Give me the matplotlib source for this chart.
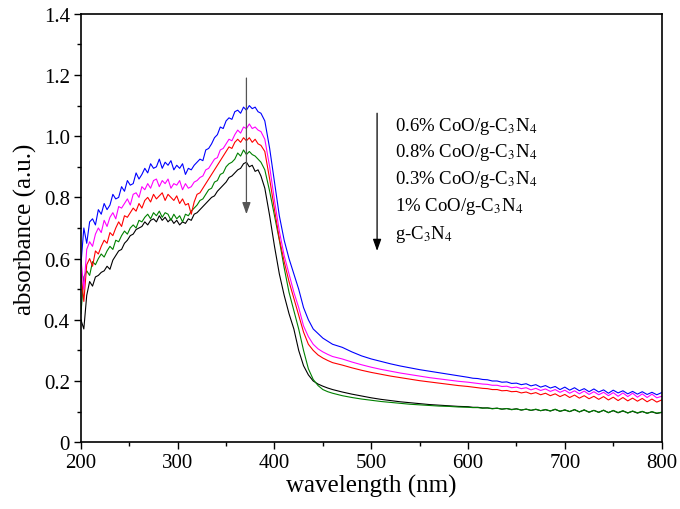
import numpy as np
import matplotlib
matplotlib.use("Agg")
import matplotlib.pyplot as plt
from matplotlib.ticker import MultipleLocator, FuncFormatter

# ── wavelength grid (nm): noisy UV part, absorption edge, tail ────────────────
wavelength = np.concatenate([
    np.arange(200, 387, 3),
    np.arange(390, 461, 5),
    np.arange(470, 591, 10),
    np.arange(600, 801, 5),
])

# ── absorbance ───────────────────────────────────────────────────────────────
abs_06 = [  # 0.6% CoO/g-C3N4 (blue)
    0.58, 0.70, 0.65, 0.72, 0.73, 0.71, 0.76, 0.745, 0.78, 0.76, 0.775, 0.81,
    0.795, 0.80, 0.835, 0.82, 0.855, 0.84, 0.845, 0.88, 0.86, 0.875, 0.895, 0.88,
    0.91, 0.895, 0.90, 0.925, 0.895, 0.915, 0.905, 0.92, 0.89, 0.905, 0.895, 0.91,
    0.875, 0.895, 0.89, 0.905, 0.915, 0.925, 0.92, 0.955, 0.96, 0.975, 0.995,
    1.005, 1.03, 1.025, 1.05, 1.06, 1.055, 1.08, 1.085, 1.075, 1.095, 1.085, 1.10,
    1.09, 1.095, 1.08, 1.075,
    1.05, 0.96, 0.85, 0.74, 0.66, 0.60, 0.55, 0.50, 0.44, 0.40, 0.37, 0.355,
    0.34, 0.33, 0.32,
    0.31, 0.295, 0.282, 0.272, 0.264, 0.256, 0.249, 0.243, 0.237, 0.232, 0.227,
    0.222, 0.217,
    0.212, 0.209, 0.208, 0.205, 0.204, 0.200, 0.200, 0.196, 0.197, 0.192, 0.193,
    0.188, 0.191, 0.184, 0.188, 0.180, 0.185, 0.177, 0.182, 0.172, 0.180, 0.170,
    0.178, 0.168, 0.175, 0.165, 0.174, 0.164, 0.171, 0.160, 0.170, 0.161, 0.168,
    0.158, 0.166, 0.157, 0.165, 0.156, 0.163, 0.155, 0.162,
]
abs_08 = [  # 0.8% CoO/g-C3N4 (magenta)
    0.60, 0.50, 0.63, 0.655, 0.64, 0.68, 0.70, 0.685, 0.725, 0.705, 0.735, 0.75,
    0.73, 0.77, 0.765, 0.78, 0.795, 0.775, 0.81, 0.815, 0.80, 0.835, 0.825, 0.845,
    0.83, 0.855, 0.86, 0.835, 0.855, 0.845, 0.86, 0.83, 0.845, 0.84, 0.855, 0.825,
    0.845, 0.83, 0.835, 0.85, 0.855, 0.865, 0.87, 0.89, 0.895, 0.91, 0.925, 0.93,
    0.955, 0.96, 0.975, 0.99, 0.985, 1.005, 1.02, 1.01, 1.03, 1.025, 1.04, 1.025,
    1.03, 1.02, 1.015,
    0.99, 0.90, 0.79, 0.69, 0.61, 0.55, 0.49, 0.44, 0.38, 0.345, 0.32, 0.305,
    0.295, 0.287, 0.28,
    0.272, 0.262, 0.253, 0.245, 0.238, 0.232, 0.226, 0.221, 0.216, 0.211, 0.207,
    0.203, 0.199,
    0.196, 0.194, 0.192, 0.190, 0.189, 0.186, 0.186, 0.182, 0.183, 0.178, 0.180,
    0.175, 0.178, 0.171, 0.176, 0.169, 0.174, 0.166, 0.172, 0.163, 0.170, 0.160,
    0.168, 0.158, 0.167, 0.156, 0.165, 0.155, 0.163, 0.152, 0.162, 0.150, 0.161,
    0.149, 0.160, 0.147, 0.158, 0.146, 0.157, 0.145, 0.150,
]
abs_03 = [  # 0.3% CoO/g-C3N4 (red)
    0.55, 0.46, 0.58, 0.60, 0.575, 0.625, 0.615, 0.64, 0.66, 0.65, 0.685, 0.675,
    0.70, 0.72, 0.705, 0.74, 0.735, 0.75, 0.765, 0.755, 0.78, 0.765, 0.79, 0.80,
    0.785, 0.81, 0.795, 0.805, 0.815, 0.79, 0.81, 0.80, 0.79, 0.805, 0.78, 0.795,
    0.775, 0.78, 0.745, 0.785, 0.81, 0.815, 0.83, 0.845, 0.86, 0.875, 0.89, 0.905,
    0.92, 0.935, 0.95, 0.965, 0.96, 0.98, 0.99, 0.98, 0.995, 0.985, 0.995, 0.98,
    0.99, 0.975, 0.97,
    0.95, 0.86, 0.76, 0.665, 0.59, 0.525, 0.47, 0.415, 0.36, 0.32, 0.30, 0.285,
    0.275, 0.267, 0.26,
    0.252, 0.243, 0.235, 0.228, 0.222, 0.216, 0.211, 0.206, 0.201, 0.197, 0.193,
    0.189, 0.185,
    0.182, 0.180, 0.178, 0.176, 0.175, 0.172, 0.172, 0.168, 0.169, 0.165, 0.166,
    0.161, 0.164, 0.158, 0.162, 0.155, 0.160, 0.152, 0.158, 0.149, 0.156, 0.146,
    0.154, 0.144, 0.152, 0.142, 0.150, 0.140, 0.149, 0.138, 0.147, 0.136, 0.146,
    0.135, 0.144, 0.134, 0.143, 0.132, 0.141, 0.131, 0.138,
]
abs_10 = [  # 1% CoO/g-C3N4 (green)
    0.42, 0.54, 0.56, 0.545, 0.59, 0.58, 0.60, 0.615, 0.605, 0.625, 0.64, 0.63,
    0.66, 0.655, 0.675, 0.69, 0.68, 0.70, 0.71, 0.70, 0.725, 0.72, 0.735, 0.745,
    0.73, 0.75, 0.74, 0.755, 0.735, 0.75, 0.745, 0.725, 0.745, 0.73, 0.74, 0.72,
    0.745, 0.74, 0.755, 0.765, 0.775, 0.79, 0.795, 0.81, 0.825, 0.83, 0.85, 0.855,
    0.875, 0.88, 0.90, 0.91, 0.915, 0.925, 0.945, 0.935, 0.955, 0.94, 0.95, 0.94,
    0.935, 0.925, 0.915,
    0.89, 0.82, 0.74, 0.66, 0.57, 0.49, 0.43, 0.37, 0.30, 0.24, 0.205, 0.185,
    0.172, 0.165, 0.16,
    0.152, 0.146, 0.141, 0.137, 0.133, 0.130, 0.127, 0.124, 0.122, 0.120, 0.118,
    0.117, 0.115,
    0.114, 0.113, 0.113, 0.111, 0.112, 0.109, 0.111, 0.108, 0.110, 0.106, 0.109,
    0.105, 0.108, 0.104, 0.108, 0.103, 0.107, 0.102, 0.108, 0.101, 0.106, 0.100,
    0.107, 0.099, 0.106, 0.098, 0.104, 0.097, 0.105, 0.096, 0.104, 0.097, 0.103,
    0.095, 0.102, 0.096, 0.101, 0.094, 0.100, 0.095, 0.098,
]
abs_gcn = [  # g-C3N4 (black)
    0.40, 0.37, 0.48, 0.525, 0.51, 0.54, 0.545, 0.555, 0.56, 0.575, 0.565, 0.595,
    0.61, 0.625, 0.63, 0.65, 0.66, 0.675, 0.68, 0.695, 0.70, 0.705, 0.72, 0.71,
    0.725, 0.73, 0.72, 0.74, 0.725, 0.735, 0.72, 0.73, 0.715, 0.725, 0.71, 0.72,
    0.715, 0.73, 0.725, 0.745, 0.75, 0.76, 0.77, 0.78, 0.79, 0.80, 0.805, 0.82,
    0.83, 0.84, 0.85, 0.865, 0.87, 0.88, 0.89, 0.895, 0.91, 0.915, 0.90, 0.905,
    0.885, 0.89, 0.87,
    0.83, 0.74, 0.64, 0.55, 0.48, 0.42, 0.37, 0.30, 0.25, 0.22, 0.20, 0.19,
    0.183, 0.177, 0.172,
    0.164, 0.157, 0.151, 0.145, 0.140, 0.136, 0.132, 0.129, 0.126, 0.123, 0.121,
    0.119, 0.117,
    0.116, 0.114, 0.114, 0.112, 0.112, 0.110, 0.111, 0.108, 0.110, 0.107, 0.109,
    0.105, 0.108, 0.104, 0.107, 0.103, 0.106, 0.102, 0.107, 0.101, 0.105, 0.100,
    0.106, 0.099, 0.105, 0.098, 0.104, 0.098, 0.104, 0.097, 0.103, 0.096, 0.102,
    0.096, 0.101, 0.095, 0.100, 0.095, 0.099, 0.094, 0.097,
]

labels = [
    "0.6% CoO/g-C$_3$N$_4$",
    "0.8% CoO/g-C$_3$N$_4$",
    "0.3% CoO/g-C$_3$N$_4$",
    "1% CoO/g-C$_3$N$_4$",
    "g-C$_3$N$_4$",
]
series = [abs_06, abs_08, abs_03, abs_10, abs_gcn]
colors = ["#0000ff", "#ff00ff", "#ff0000", "#008000", "#000000"]

plt.rcParams["font.family"] = ["Liberation Serif", "DejaVu Serif"]
plt.rcParams["mathtext.fontset"] = "stix"

fig = plt.figure(figsize=(6.8, 5.1), dpi=100)
ax = fig.add_axes([0.119, 0.131, 0.854, 0.840])

# draw black first so the blue curve sits on top like the original
for y, c in reversed(list(zip(series, colors))):
    ax.plot(wavelength, y, color=c, lw=0.8)

ax.set_xlim(200, 800)
ax.set_ylim(0, 1.4)
ax.xaxis.set_major_locator(MultipleLocator(100))
ax.xaxis.set_minor_locator(MultipleLocator(50))
ax.yaxis.set_major_locator(MultipleLocator(0.2))
ax.yaxis.set_minor_locator(MultipleLocator(0.1))
ax.yaxis.set_major_formatter(FuncFormatter(lambda v, _: "0" if abs(v) < 1e-9 else f"{v:.1f}"))
ax.tick_params(which="both", direction="out", top=False, right=False, labelsize=15, width=1.0)
ax.tick_params(which="major", length=5, pad=3)
ax.tick_params(which="minor", length=3)
for sp in ax.spines.values():
    sp.set_linewidth(1.2)

ax.set_xlabel("wavelength (nm)", fontsize=18, labelpad=1)
ax.set_ylabel("absorbance (a.u.)", fontsize=18, labelpad=5)

# trend arrow on the curves
ax.annotate("", xy=(371, 0.745), xytext=(371, 1.19),
            arrowprops=dict(arrowstyle="-|>,head_width=0.25,head_length=0.7",
                            color="#555555", lw=0.9, shrinkA=0, shrinkB=0))
ax.annotate("", xy=(506, 0.625), xytext=(506, 1.075),
            arrowprops=dict(arrowstyle="-|>,head_width=0.25,head_length=0.7",
                            color="black", lw=0.9, shrinkA=0, shrinkB=0))

# label list next to the arrow
label_y = [1.034, 0.949, 0.862, 0.772, 0.683]
for t, yy in zip(labels, label_y):
    ax.text(524, yy, t, fontsize=13.5, va="center", ha="left")

fig.savefig("out.png", dpi=100)
